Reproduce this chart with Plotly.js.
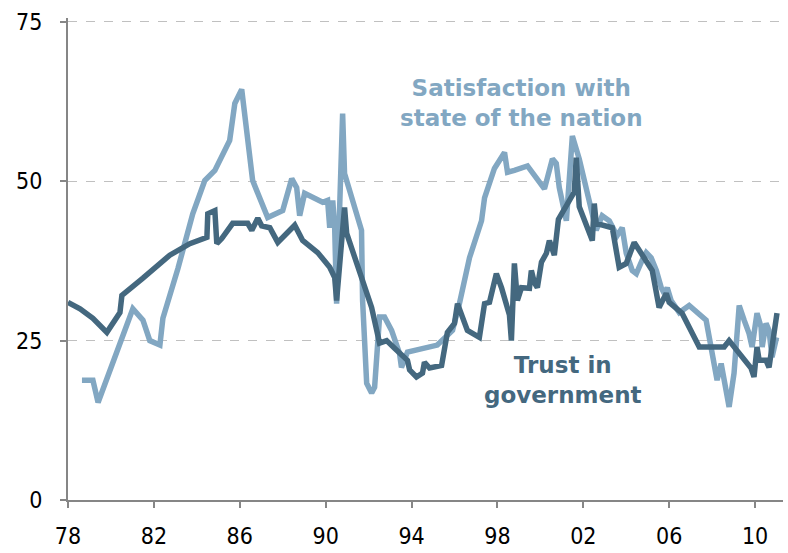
<!DOCTYPE html>
<html>
<head>
<meta charset="utf-8">
<script src="https://cdn.plot.ly/plotly-3.0.1.min.js"></script>
<style>
    html, body { margin: 0; padding: 0; background: #fff; }
    #chart { width: 788px; height: 553px; }
</style>
</head>
<body>
<div id="chart"></div>
<script>
// Satisfaction with state of the nation
const satYears = [1978.65, 1979.16, 1979.40, 1981.02, 1981.49, 1981.81, 1982.28, 1982.42, 1983.12, 1983.81,
    1984.37, 1984.84, 1985.53, 1985.77, 1986.09, 1986.60, 1987.30, 1988.00, 1988.42, 1988.65,
    1988.79, 1989.02, 1989.86, 1990.09, 1990.19, 1990.33, 1990.42, 1990.51, 1990.79, 1990.88,
    1991.67, 1991.72, 1991.91, 1992.14, 1992.28, 1992.51, 1992.74, 1993.07, 1993.44, 1993.53,
    1993.81, 1994.80, 1995.20, 1995.91, 1996.23, 1996.70, 1997.26, 1997.40, 1997.72, 1997.86,
    1998.33, 1998.47, 1998.79, 1999.40, 2000.19, 2000.56, 2000.74, 2000.88, 2001.21, 2001.49,
    2001.81, 2002.14, 2002.28, 2002.60, 2002.88, 2003.21, 2003.44, 2003.58, 2003.81, 2004.00,
    2004.28, 2004.47, 2004.74, 2004.93, 2005.16, 2005.40, 2005.63, 2005.77, 2005.91, 2006.09,
    2006.47, 2006.93, 2007.72, 2008.00, 2008.23, 2008.42, 2008.65, 2008.79, 2009.02, 2009.26,
    2009.49, 2009.72, 2009.86, 2010.09, 2010.28, 2010.33, 2010.51, 2010.65, 2010.79, 2011.00];
const satValues = [18.8, 18.8, 15.3, 30.0, 28.2, 25.0, 24.3, 28.5, 36.3, 44.9,
    50.1, 51.7, 56.4, 62.2, 64.4, 50.1, 44.3, 45.4, 50.4, 49.0,
    44.6, 48.1, 46.7, 47.0, 42.7, 47.0, 42.7, 30.8, 60.6, 51.2,
    42.3, 31.3, 18.3, 16.8, 17.7, 28.7, 28.7, 26.6, 23.0, 20.8,
    23.2, 24.0, 24.3, 26.6, 30.8, 38.0, 43.8, 47.4, 50.6, 52.0,
    54.5, 51.4, 51.7, 52.4, 48.8, 53.5, 52.8, 49.0, 43.8, 57.1,
    53.5, 49.0, 46.5, 42.3, 44.6, 43.8, 42.3, 41.5, 42.7, 38.7,
    36.0, 35.5, 37.6, 38.8, 38.0, 36.0, 33.3, 32.4, 33.3, 31.3,
    29.4, 30.5, 28.2, 23.0, 18.8, 21.4, 16.8, 14.6, 19.9, 30.5,
    28.2, 26.1, 24.0, 29.3, 27.1, 24.0, 27.7, 26.6, 22.4, 25.5];

// Trust in government
const trustYears = [1978.00, 1978.56, 1979.16, 1979.81, 1980.42, 1980.51, 1981.49, 1982.42, 1982.74, 1983.67,
    1984.47, 1984.51, 1984.84, 1984.93, 1985.16, 1985.67, 1986.37, 1986.56, 1986.84, 1987.02,
    1987.40, 1987.77, 1988.56, 1988.93, 1989.40, 1989.63, 1990.19, 1990.42, 1990.51, 1990.56,
    1990.88, 1990.98, 1991.58, 1992.14, 1992.51, 1992.84, 1993.21, 1993.81, 1993.91, 1994.23,
    1994.51, 1994.60, 1994.84, 1995.40, 1995.67, 1996.00, 1996.14, 1996.37, 1996.60, 1997.16,
    1997.40, 1997.63, 1997.95, 1998.19, 1998.56, 1998.65, 1998.79, 1998.93, 1999.12, 1999.49,
    1999.58, 1999.72, 1999.86, 2000.05, 2000.28, 2000.42, 2000.65, 2000.84, 2001.58, 2001.67,
    2001.81, 2002.42, 2002.51, 2002.60, 2003.35, 2003.67, 2004.00, 2004.37, 2005.21, 2005.53,
    2005.86, 2006.00, 2006.60, 2007.40, 2008.56, 2008.79, 2009.49, 2009.81, 2009.95, 2010.09,
    2010.19, 2010.51, 2010.65, 2011.02];
const trustValues = [31.0, 30.0, 28.5, 26.3, 29.4, 32.1, 34.8, 37.6, 38.4, 40.2,
    41.2, 44.9, 45.4, 40.2, 41.0, 43.4, 43.4, 42.3, 44.2, 43.0,
    42.7, 40.4, 43.1, 40.7, 39.5, 38.8, 36.5, 34.9, 31.3, 33.0,
    45.9, 41.8, 35.5, 30.2, 24.6, 25.0, 23.8, 21.9, 20.4, 19.3,
    19.9, 21.6, 20.7, 21.1, 26.3, 27.7, 30.8, 28.7, 26.6, 25.5,
    30.8, 31.0, 35.5, 33.3, 29.0, 25.0, 37.1, 31.3, 33.3, 33.2,
    36.0, 34.1, 33.3, 37.3, 38.7, 40.7, 38.4, 44.0, 48.3, 53.7,
    46.0, 40.7, 46.5, 43.4, 42.7, 36.5, 37.1, 40.4, 36.0, 30.2,
    32.4, 31.0, 29.3, 24.0, 24.0, 25.0, 21.9, 20.7, 19.3, 24.0,
    21.9, 21.9, 20.8, 29.3];

const xTickVals = [1978, 1982, 1986, 1990, 1994, 1998, 2002, 2006, 2010];
const xTickText = ["78", "82", "86", "90", "94", "98", "02", "06", "10"];
const yTickVals = [0, 25, 50, 75];

const lightBlue = "#82a7c2";
const darkBlue = "#44687f";
const axisGrey = "#868686";
const tickFont = { family: "DejaVu Sans Condensed, DejaVu Sans, sans-serif", size: 23, color: "#000" };
const labelFont = { family: "DejaVu Sans, sans-serif", size: 23, weight: "bold" };

const traces = [
    {
        x: satYears, y: satValues, type: "scatter", mode: "lines",
        name: "Satisfaction with state of the nation",
        line: { color: lightBlue, width: 5.5, shape: "linear" },
        hoverinfo: "skip",
    },
    {
        x: trustYears, y: trustValues, type: "scatter", mode: "lines",
        name: "Trust in government",
        line: { color: darkBlue, width: 5.5, shape: "linear" },
        hoverinfo: "skip",
    },
];

const layout = {
    width: 788,
    height: 553,
    margin: { l: 68, r: 5, t: 18, b: 53 },
    paper_bgcolor: "#fff",
    plot_bgcolor: "#fff",
    showlegend: false,
    xaxis: {
        range: [1978, 2011.3],
        tickvals: xTickVals,
        ticktext: xTickText,
        ticks: "outside",
        ticklen: 6,
        tickwidth: 2,
        tickcolor: axisGrey,
        ticklabelstandoff: 8,
        showgrid: false,
        showline: true,
        linecolor: axisGrey,
        linewidth: 2,
        zeroline: false,
        tickfont: tickFont,
        fixedrange: true,
    },
    yaxis: {
        range: [0, 75.6],
        tickvals: yTickVals,
        ticks: "outside",
        ticklen: 6,
        tickwidth: 2,
        tickcolor: axisGrey,
        ticklabelstandoff: 13,
        showgrid: true,
        gridcolor: "#c0c0c0",
        gridwidth: 1,
        griddash: "dash",
        showline: true,
        linecolor: axisGrey,
        linewidth: 2,
        zeroline: false,
        tickfont: tickFont,
        fixedrange: true,
    },
    annotations: [
        {
            x: 1999.1, y: 62.3, xref: "x", yref: "y",
            text: "Satisfaction with<br>state of the nation",
            showarrow: false, align: "center",
            font: { ...labelFont, color: lightBlue },
        },
        {
            x: 2001.05, y: 18.9, xref: "x", yref: "y",
            text: "Trust in<br>government",
            showarrow: false, align: "center",
            font: { ...labelFont, color: darkBlue },
        },
    ],
};

Plotly.newPlot("chart", traces, layout, { displayModeBar: false, staticPlot: true });
</script>
</body>
</html>
